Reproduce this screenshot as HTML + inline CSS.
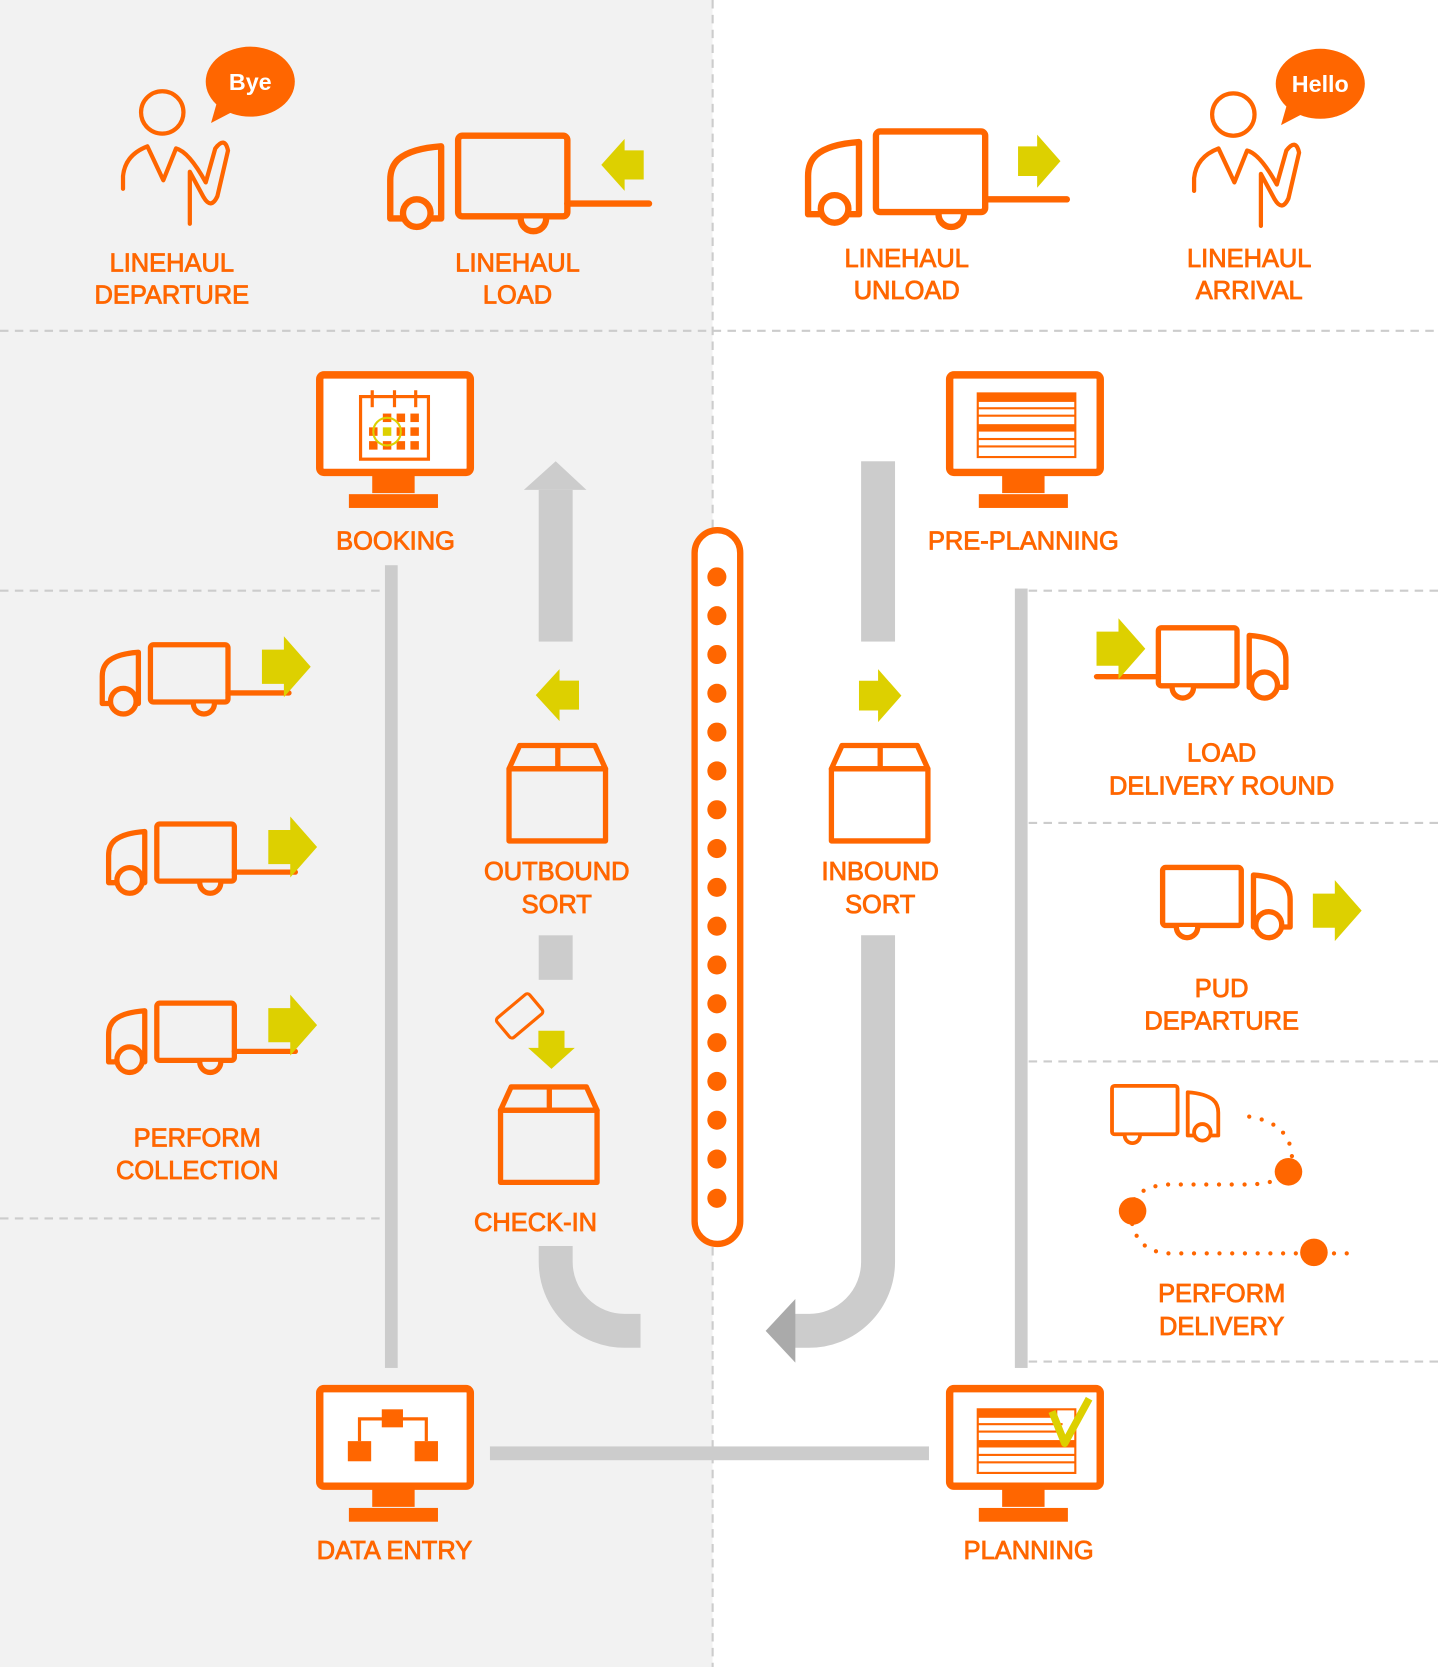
<!DOCTYPE html>
<html><head><meta charset="utf-8"><style>
html,body{margin:0;padding:0;background:#fff;}
svg{display:block;}
text{font-family:"Liberation Sans",sans-serif;font-size:24px;fill:#FF6600;text-anchor:middle;stroke:#FF6600;stroke-width:0.8;}
</style></head><body>
<svg width="1438" height="1667" viewBox="0 0 1356 1572" preserveAspectRatio="none" xmlns="http://www.w3.org/2000/svg">
<defs>
<g id="tb" stroke="#FF6600" stroke-width="6" stroke-linejoin="round" stroke-linecap="round">
  <path d="M50,10 Q22,12 10,22 Q2,29 2,42 L2,78 L50,78 Z" fill="none"/>
  <rect x="66" y="0" width="103" height="76" rx="4" fill="none"/>
  <path d="M125,78 A12,12 0 0 0 149,78"/>
  <circle cx="27" cy="73" r="13"/>
</g>
<g id="tbs" stroke="#FF6600" stroke-width="7" stroke-linejoin="round" stroke-linecap="round">
  <path d="M50,10 Q22,12 10,22 Q2,29 2,42 L2,78 L50,78 Z" fill="none"/>
  <rect x="66" y="0" width="103" height="76" rx="4" fill="none"/>
  <path d="M123,78 A14,14 0 0 0 151,78"/>
  <circle cx="30" cy="75" r="17"/>
</g>
<g id="tt"><use href="#tb"/><path d="M169,64 L246,64" stroke="#FF6600" stroke-width="6" stroke-linecap="round"/></g>
<g id="tts"><use href="#tbs"/><path d="M169,64 L250,64" stroke="#FF6600" stroke-width="7" stroke-linecap="round"/></g>
<polygon id="ar" points="0,11 18,11 18,0 40,25 18,50 18,39 0,39" fill="#DDD000"/>
<g id="person" fill="none" stroke="#FF6600" stroke-width="4" stroke-linecap="round" stroke-linejoin="round">
  <circle cx="153" cy="106" r="20"/>
  <path d="M116,178 L116,166 Q118,146 139,138 L154,170 L166,140 Q178,143 194,172 L203,140 Q212,128 215,142 L205,185 Q199,198 192,186 L179,162 L179,211"/>
</g>
<g id="box" fill="none" stroke="#FF6600" stroke-width="5" stroke-linejoin="round">
  <rect x="0" y="24" width="91" height="68"/>
  <polygon points="0,24 10,2 81,2 91,24"/>
  <line x1="46" y1="2" x2="46" y2="24"/>
</g>
<g id="mon">
  <rect x="3.5" y="3.5" width="142" height="92" rx="4" fill="#fff" stroke="#FF6600" stroke-width="7"/>
  <rect x="53" y="98" width="40" height="17" fill="#FF6600"/>
  <rect x="31" y="116" width="84" height="13" fill="#FF6600"/>
</g>
</defs>

<rect x="0" y="0" width="672" height="1572" fill="#F2F2F2"/>
<rect x="672" y="0" width="684" height="1572" fill="#fff"/>
<g stroke="#ccc" stroke-width="2" stroke-dasharray="8 6" fill="none">
  <line x1="672" y1="0" x2="672" y2="1572"/>
  <line x1="0" y1="312" x2="1356" y2="312"/>
  <line x1="0" y1="557" x2="360" y2="557"/>
  <line x1="970" y1="557" x2="1356" y2="557"/>
  <line x1="0" y1="1149" x2="360" y2="1149"/>
  <line x1="970" y1="776" x2="1356" y2="776"/>
  <line x1="970" y1="1001" x2="1356" y2="1001"/>
  <line x1="970" y1="1284" x2="1356" y2="1284"/>
</g>

<use href="#person"/>
<ellipse cx="236" cy="77" rx="42" ry="33" fill="#FF6600"/>
<polygon points="205,95 199,116 222,104" fill="#FF6600"/>
<text x="236" y="85" style="fill:#fff;stroke:#fff;font-size:22px;font-weight:bold;stroke-width:0">Bye</text>
<g transform="translate(1010,2)"><use href="#person"/></g>
<ellipse cx="1245" cy="79" rx="42" ry="33" fill="#FF6600"/>
<polygon points="1214,97 1208,118 1231,106" fill="#FF6600"/>
<text x="1245" y="87" style="fill:#fff;stroke:#fff;font-size:22px;font-weight:bold;stroke-width:0">Hello</text>

<use href="#tt" x="366" y="128" fill="#F2F2F2"/>
<use href="#ar" transform="translate(607,131) scale(-1,1) scale(1,0.98)"/>
<use href="#tt" x="760" y="124" fill="#fff"/>
<use href="#ar" x="960" y="127"/>

<text x="162" y="256">LINEHAUL</text><text x="162" y="286">DEPARTURE</text>
<text x="488" y="256">LINEHAUL</text><text x="488" y="286">LOAD</text>
<text x="855" y="252">LINEHAUL</text><text x="855" y="282">UNLOAD</text>
<text x="1178" y="252">LINEHAUL</text><text x="1178" y="282">ARRIVAL</text>

<rect x="363" y="533" width="12" height="757" fill="#ccc"/>
<rect x="957" y="555" width="12" height="735" fill="#ccc"/>
<rect x="462" y="1364" width="414" height="13" fill="#ccc"/>
<rect x="508" y="462" width="32" height="143" fill="#ccc"/>
<polygon points="494,462 524,435 553,462" fill="#ccc"/>
<rect x="508" y="882" width="32" height="42" fill="#ccc"/>
<path d="M524,1175 L524,1190 A65,65 0 0 0 589,1255 L604,1255" fill="none" stroke="#ccc" stroke-width="32"/>
<rect x="812" y="435" width="32" height="170" fill="#ccc"/>
<path d="M828,882 L828,1190 A65,65 0 0 1 763,1255 L748,1255" fill="none" stroke="#ccc" stroke-width="32"/>
<polygon points="722,1255 750,1225 750,1285" fill="#aaa"/>

<rect x="655" y="500" width="43" height="673" rx="21.5" fill="#fff" stroke="#FF6600" stroke-width="6"/>
<g fill="#FF6600">
<circle cx="676" cy="544" r="9"/><circle cx="676" cy="580.6" r="9"/><circle cx="676" cy="617.2" r="9"/><circle cx="676" cy="653.8" r="9"/><circle cx="676" cy="690.4" r="9"/><circle cx="676" cy="727" r="9"/><circle cx="676" cy="763.6" r="9"/><circle cx="676" cy="800.2" r="9"/><circle cx="676" cy="836.8" r="9"/><circle cx="676" cy="873.4" r="9"/><circle cx="676" cy="910" r="9"/><circle cx="676" cy="946.6" r="9"/><circle cx="676" cy="983.2" r="9"/><circle cx="676" cy="1019.8" r="9"/><circle cx="676" cy="1056.4" r="9"/><circle cx="676" cy="1093" r="9"/><circle cx="676" cy="1130" r="9"/>
</g>

<use href="#mon" x="298" y="350"/>
<g stroke="#FF6600" stroke-width="3" fill="none"><rect x="340" y="374" width="64" height="59"/><line x1="351" y1="368" x2="351" y2="384"/><line x1="372" y1="368" x2="372" y2="384"/><line x1="392" y1="368" x2="392" y2="384"/></g>
<g fill="#FF6600">
<rect x="361" y="390" width="8" height="8"/><rect x="374" y="390" width="8" height="8"/><rect x="387" y="390" width="8" height="8"/>
<rect x="348" y="403" width="8" height="8"/><rect x="374" y="403" width="8" height="8"/><rect x="387" y="403" width="8" height="8"/>
<rect x="348" y="416" width="8" height="8"/><rect x="361" y="416" width="8" height="8"/><rect x="374" y="416" width="8" height="8"/><rect x="387" y="416" width="8" height="8"/>
</g>
<rect x="361" y="403" width="8" height="8" fill="#DDD000"/>
<circle cx="365" cy="407" r="13" fill="none" stroke="#DDD000" stroke-width="2"/>
<text x="373" y="518">BOOKING</text>

<use href="#mon" x="892" y="350"/>
<g fill="none" stroke="#FF6600" stroke-width="2"><rect x="922" y="371" width="92" height="60"/></g>
<g fill="#FF6600"><rect x="922" y="371" width="92" height="8"/><rect x="922" y="400" width="92" height="7"/>
<rect x="922" y="384" width="92" height="2"/><rect x="922" y="391" width="92" height="2"/><rect x="922" y="413" width="92" height="2"/><rect x="922" y="420" width="92" height="2"/></g>
<text x="965" y="518">PRE-PLANNING</text>

<g transform="translate(95,608) scale(0.71)"><use href="#tts" fill="#F2F2F2"/></g>
<use href="#ar" transform="translate(247,600) scale(1.15)"/>
<g transform="translate(101,777) scale(0.71)"><use href="#tts" fill="#F2F2F2"/></g>
<use href="#ar" transform="translate(253,770) scale(1.15)"/>
<g transform="translate(101,946) scale(0.71)"><use href="#tts" fill="#F2F2F2"/></g>
<use href="#ar" transform="translate(253,938) scale(1.15)"/>
<text x="186" y="1081">PERFORM</text><text x="186" y="1112">COLLECTION</text>

<use href="#ar" transform="translate(546,631) scale(-1.02,0.98)"/>
<use href="#box" x="480" y="701"/>
<text x="525" y="830">OUTBOUND</text><text x="525" y="861">SORT</text>
<use href="#ar" x="810" y="631"/>
<use href="#box" x="784" y="701"/>
<text x="830" y="830">INBOUND</text><text x="830" y="861">SORT</text>

<g transform="translate(490,958) rotate(-40)"><rect x="-20" y="-12" width="40" height="24" rx="3" fill="none" stroke="#FF6600" stroke-width="3"/></g>
<use href="#ar" transform="translate(542,972) rotate(90) scale(0.9,0.88)"/>
<use href="#box" x="472" y="1023"/>
<text x="505" y="1161">CHECK-IN</text>

<g transform="translate(1214,592) scale(-0.72,0.72)"><use href="#tts" fill="#fff"/></g>
<use href="#ar" transform="translate(1034,583) scale(1.15)"/>
<text x="1152" y="718">LOAD</text><text x="1152" y="749">DELIVERY ROUND</text>
<g transform="translate(1218,818) scale(-0.72,0.72)"><use href="#tbs" fill="#fff"/></g>
<use href="#ar" transform="translate(1238,830) scale(1.15)"/>
<text x="1152" y="940">PUD</text><text x="1152" y="971">DEPARTURE</text>

<g transform="translate(1150,1024) scale(-0.6,0.6)"><use href="#tb" fill="#fff"/></g>
<path d="M1178,1053 Q1222,1060 1218,1100 Q1210,1118 1170,1117 L1100,1117 Q1068,1120 1066,1142 Q1068,1182 1105,1182 L1278,1182" fill="none" stroke="#FF6600" stroke-width="4" stroke-linecap="round" stroke-dasharray="0 12"/>
<circle cx="1215" cy="1105" r="13" fill="#FF6600"/>
<circle cx="1068" cy="1142" r="13" fill="#FF6600"/>
<circle cx="1239" cy="1181" r="13" fill="#FF6600"/>
<text x="1152" y="1228">PERFORM</text><text x="1152" y="1259">DELIVERY</text>

<use href="#mon" x="298" y="1306"/>
<g fill="#FF6600"><rect x="360" y="1329" width="20" height="17"/><rect x="328" y="1359" width="22" height="19"/><rect x="391" y="1359" width="22" height="19"/></g>
<path d="M339,1359 L339,1338 L402,1338 L402,1359" fill="none" stroke="#FF6600" stroke-width="3"/>
<text x="372" y="1470">DATA ENTRY</text>

<use href="#mon" x="892" y="1306"/>
<g fill="none" stroke="#FF6600" stroke-width="2"><rect x="922" y="1329" width="92" height="60"/></g>
<g fill="#FF6600"><rect x="922" y="1329" width="75" height="8"/><rect x="922" y="1358" width="92" height="7"/>
<rect x="922" y="1342" width="80" height="2"/><rect x="922" y="1349" width="80" height="2"/><rect x="922" y="1371" width="92" height="2"/><rect x="922" y="1378" width="92" height="2"/></g>
<path d="M992,1331 L1004,1361 L1027,1319" fill="none" stroke="#DDD000" stroke-width="7" stroke-linejoin="round"/>
<text x="970" y="1470">PLANNING</text>
</svg>
</body></html>
